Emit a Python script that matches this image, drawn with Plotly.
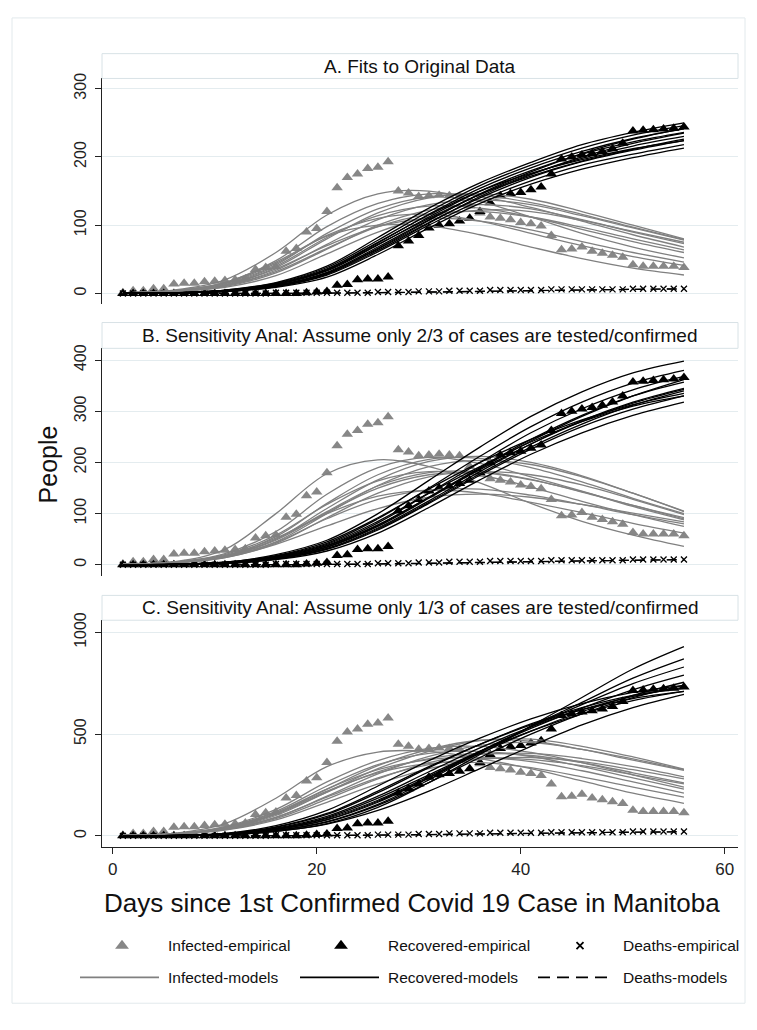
import plotly.graph_objects as go

W, H = 757, 1030

# ---------------- data ----------------
days = list(range(1, 57))
infected_emp = [1, 4, 4, 7, 7, 14, 15, 15, 17, 18, 19, 20, 21, 35, 38, 39, 62, 66, 90, 95,
                120, 155, 170, 175, 183, 185, 193, 150, 147, 142, 143, 144, 143, 142, 128, 118,
                112, 110, 108, 104, 102, 99, 85, 64, 65, 68, 62, 59, 56, 53, 42, 40, 40, 40, 40, 38]
recovered_emp = [0, 0, 0, 0, 0, 0, 0, 0, 0, 0, 0, 0, 0, 0, 0, 0, 0, 0, 1, 2,
                 3, 12, 13, 20, 21, 21, 24, 70, 77, 85, 96, 100, 102, 106, 110, 120,
                 133, 143, 146, 148, 152, 156, 175, 197, 200, 203, 205, 208, 212, 220,
                 238, 239, 240, 241, 242, 244]
deaths_emp = [0, 0, 0, 0, 0, 0, 0, 0, 0, 0, 0, 0, 0, 0, 0, 1, 1, 1, 1, 1, 1, 1, 1, 1, 1,
              2, 2, 2, 2, 3, 3, 3, 4, 4, 4, 4, 5, 5, 5, 5, 5, 5, 6, 6, 6, 6, 6, 6, 6, 6,
              7, 7, 7, 7, 7, 7]
# panel B assumes only 2/3 of cases confirmed (x1.5), panel C only 1/3 (x3)
scale_factors = [1.0, 1.5, 3.0]

model_days = [1, 6, 11, 16, 21, 26, 31, 36, 41, 46, 51, 56]

infected_models_A = [
    [1, 5, 20, 60, 115, 146, 150, 135, 112, 88, 68, 52],
    [1, 4, 16, 48, 98, 132, 146, 142, 126, 106, 86, 68],
    [1, 4, 14, 42, 88, 124, 142, 144, 133, 116, 97, 79],
    [1, 3, 12, 38, 80, 118, 140, 146, 138, 120, 100, 80],
    [1, 3, 11, 34, 72, 108, 130, 137, 130, 114, 96, 78],
    [1, 3, 13, 40, 82, 114, 128, 125, 112, 94, 76, 60],
    [1, 3, 10, 30, 65, 100, 122, 130, 124, 108, 90, 73],
    [1, 4, 15, 44, 85, 110, 116, 106, 88, 70, 54, 41],
    [1, 3, 12, 36, 70, 98, 110, 106, 93, 76, 60, 46],
    [1, 4, 16, 46, 84, 100, 99, 86, 68, 51, 37, 27],
    [1, 3, 11, 32, 66, 98, 116, 120, 112, 97, 80, 64],
    [1, 3, 9, 26, 58, 90, 112, 122, 120, 107, 91, 75],
]
recovered_models_A = [
    [0, 1, 5, 16, 40, 82, 125, 162, 192, 218, 236, 250],
    [0, 1, 5, 15, 38, 78, 120, 158, 188, 213, 232, 246],
    [0, 1, 4, 14, 35, 74, 116, 154, 184, 208, 227, 241],
    [0, 1, 4, 13, 33, 71, 112, 150, 180, 204, 222, 236],
    [0, 1, 4, 12, 31, 68, 108, 145, 175, 198, 216, 230],
    [0, 1, 3, 11, 29, 65, 104, 140, 170, 193, 210, 224],
    [0, 1, 3, 10, 27, 61, 100, 136, 165, 188, 204, 218],
    [0, 1, 3, 9, 24, 57, 96, 132, 160, 182, 199, 213],
    [0, 1, 4, 14, 36, 75, 115, 150, 176, 196, 212, 224],
    [0, 1, 4, 13, 34, 72, 110, 145, 172, 194, 211, 226],
    [0, 1, 3, 11, 30, 66, 107, 146, 178, 205, 226, 242],
    [0, 1, 3, 10, 28, 63, 103, 142, 174, 200, 220, 235],
]
deaths_models_A = [
    [0, 0, 0, 0.2, 0.6, 1.3, 2.2, 3.2, 4.2, 5.1, 5.9, 6.5],
    [0, 0, 0, 0.1, 0.4, 1.0, 1.8, 2.8, 3.9, 5.0, 6.0, 6.9],
]

infected_models_B = [
    [1, 6, 30, 100, 178, 205, 192, 160, 120, 85, 58, 36],
    [1, 5, 22, 65, 138, 190, 210, 198, 172, 144, 114, 88],
    [1, 4, 18, 55, 120, 176, 206, 208, 190, 162, 130, 100],
    [1, 4, 16, 50, 110, 166, 202, 212, 200, 174, 140, 105],
    [1, 4, 15, 45, 100, 155, 192, 204, 196, 172, 140, 104],
    [1, 5, 20, 58, 118, 164, 182, 175, 152, 124, 98, 75],
    [1, 4, 16, 48, 102, 150, 176, 180, 166, 143, 116, 90],
    [1, 4, 14, 42, 92, 140, 172, 182, 176, 156, 128, 98],
    [1, 5, 18, 52, 100, 134, 146, 140, 122, 102, 81, 62],
    [1, 4, 15, 44, 90, 128, 146, 148, 136, 118, 98, 80],
    [1, 4, 14, 40, 76, 110, 132, 138, 132, 118, 101, 84],
    [1, 4, 17, 50, 104, 154, 180, 182, 167, 142, 116, 92],
]
recovered_models_B = [
    [0, 1, 5, 20, 48, 100, 165, 230, 290, 338, 375, 398],
    [0, 1, 4, 17, 42, 90, 150, 212, 270, 318, 355, 380],
    [0, 1, 4, 15, 38, 82, 140, 200, 258, 305, 342, 368],
    [0, 1, 4, 14, 35, 77, 132, 190, 245, 292, 330, 357],
    [0, 1, 3, 12, 32, 72, 125, 182, 236, 282, 318, 345],
    [0, 1, 3, 11, 30, 68, 120, 175, 226, 270, 304, 330],
    [0, 1, 3, 10, 27, 62, 112, 166, 216, 258, 292, 318],
    [0, 1, 4, 16, 40, 85, 140, 192, 240, 280, 310, 330],
    [0, 1, 5, 18, 45, 92, 148, 200, 245, 283, 313, 335],
    [0, 1, 3, 13, 34, 75, 130, 188, 242, 290, 330, 362],
    [0, 1, 3, 12, 31, 70, 122, 178, 230, 275, 312, 340],
    [0, 1, 4, 15, 37, 78, 132, 186, 236, 280, 316, 343],
]
deaths_models_B = [
    [0, 0, 0, 0.3, 0.9, 2.0, 3.3, 4.8, 6.3, 7.6, 8.8, 9.8],
    [0, 0, 0, 0.2, 0.6, 1.5, 2.7, 4.2, 5.8, 7.5, 9.0, 10.3],
]

infected_models_C = [
    [2, 12, 60, 185, 340, 412, 415, 380, 330, 270, 210, 160],
    [2, 10, 45, 130, 265, 370, 430, 440, 410, 360, 300, 240],
    [2, 9, 38, 110, 230, 345, 425, 470, 465, 425, 372, 322],
    [2, 9, 35, 100, 215, 330, 415, 468, 475, 440, 388, 328],
    [2, 8, 32, 90, 195, 305, 390, 445, 458, 425, 378, 325],
    [2, 10, 42, 120, 245, 350, 405, 415, 390, 340, 285, 230],
    [2, 9, 36, 105, 215, 315, 380, 405, 395, 360, 310, 260],
    [2, 8, 30, 85, 180, 280, 360, 400, 405, 380, 340, 290],
    [2, 9, 38, 108, 220, 310, 355, 360, 335, 290, 240, 190],
    [2, 8, 32, 92, 190, 285, 350, 380, 375, 345, 300, 255],
    [2, 7, 28, 78, 165, 255, 330, 375, 385, 365, 325, 280],
    [2, 10, 40, 115, 230, 325, 375, 385, 365, 320, 265, 210],
]
recovered_models_C = [
    [0, 1, 5, 22, 60, 140, 262, 400, 540, 680, 820, 930],
    [0, 1, 6, 26, 70, 155, 275, 410, 538, 656, 775, 870],
    [0, 1, 7, 30, 78, 165, 285, 415, 535, 645, 748, 830],
    [0, 2, 8, 34, 86, 175, 292, 415, 528, 628, 718, 790],
    [0, 2, 12, 50, 125, 245, 370, 480, 575, 650, 705, 740],
    [0, 2, 10, 42, 105, 212, 335, 450, 550, 630, 690, 725],
    [0, 1, 8, 35, 90, 185, 300, 415, 515, 600, 665, 710],
    [0, 1, 5, 22, 58, 125, 220, 330, 440, 545, 630, 695],
    [0, 2, 9, 38, 96, 195, 315, 432, 535, 620, 685, 730],
    [0, 1, 6, 26, 68, 150, 262, 385, 500, 600, 680, 740],
    [0, 2, 10, 44, 110, 220, 340, 450, 545, 620, 675, 710],
    [0, 1, 7, 31, 80, 170, 285, 405, 515, 610, 690, 755],
]
deaths_models_C = [
    [0, 0, 0, 0.6, 1.8, 4.0, 6.6, 9.6, 12.6, 15.2, 17.6, 19.6],
    [0, 0, 0, 0.4, 1.2, 3.0, 5.4, 8.4, 11.6, 15.0, 18.0, 20.6],
]

panel_titles = [
    "A. Fits to Original Data",
    "B. Sensitivity Anal: Assume only 2/3 of cases are tested/confirmed",
    "C. Sensitivity Anal: Assume only 1/3 of cases are tested/confirmed",
]
x_ticks = [0, 20, 40, 60]
y_ticks = [[0, 100, 200, 300], [0, 100, 200, 300, 400], [0, 500, 1000]]

legend_labels = [
    "Infected-empirical", "Recovered-empirical", "Deaths-empirical",
    "Infected-models", "Recovered-models", "Deaths-models",
]
x_title = "Days since 1st Confirmed Covid 19 Case in Manitoba"
y_title = "People"

# ---------------- layout / style ----------------
FONT = "Liberation Sans, Arial, Helvetica, sans-serif"
GRAY_MK = "#878787"
GRAY_LN = "#808080"
BLACK = "#000000"
AXC = "#222222"

y_ranges = [[-15, 315], [-21, 423], [-57, 1060]]
x_range = [-1.05, 61.3]
plot_left, plot_right = 102, 738
panel_px = [(71, 298), (343, 572), (617, 846)]      # plot area top/bottom (px)
title_px = [(46, 71), (317, 343), (592, 617)]       # title box top/bottom (px)
legend_px = (925, 995)                              # legend band top/bottom (px)


def px(x):
    return x / W


def py(y):
    return 1 - y / H


infected_models = [infected_models_A, infected_models_B, infected_models_C]
recovered_models = [recovered_models_A, recovered_models_B, recovered_models_C]
deaths_models = [deaths_models_A, deaths_models_B, deaths_models_C]

fig = go.Figure()
layout = dict(
    width=W, height=H,
    margin=dict(l=0, r=0, t=0, b=0),
    paper_bgcolor="white", plot_bgcolor="rgba(0,0,0,0)",
    showlegend=False,
    font=dict(family=FONT, color=AXC),
)

shapes = []
annotations = []

for i in range(3):
    sfx = "" if i == 0 else str(i + 1)
    xa, ya = "x" + sfx, "y" + sfx
    f = scale_factors[i]
    top, bot = panel_px[i]
    dom_y = [py(bot), py(top)]
    dom_x = [px(plot_left), px(plot_right)]

    fig.add_trace(go.Scatter(
        x=days, y=[v * f for v in infected_emp], mode="markers", xaxis=xa, yaxis=ya,
        marker=dict(symbol="triangle-up", size=10, color=GRAY_MK, line=dict(width=0))))
    fig.add_trace(go.Scatter(
        x=days, y=[v * f for v in recovered_emp], mode="markers", xaxis=xa, yaxis=ya,
        marker=dict(symbol="triangle-up", size=10, color=BLACK, line=dict(width=0))))
    fig.add_trace(go.Scatter(
        x=days, y=[v * f for v in deaths_emp], mode="markers", xaxis=xa, yaxis=ya,
        marker=dict(symbol="x-thin", size=6, color=BLACK, line=dict(width=1.3, color=BLACK))))

    for curve in infected_models[i]:
        fig.add_trace(go.Scatter(
            x=model_days, y=curve, mode="lines", xaxis=xa, yaxis=ya,
            line=dict(color=GRAY_LN, width=1.3, shape="spline", smoothing=1.0)))
    for curve in recovered_models[i]:
        fig.add_trace(go.Scatter(
            x=model_days, y=curve, mode="lines", xaxis=xa, yaxis=ya,
            line=dict(color=BLACK, width=1.3, shape="spline", smoothing=1.0)))
    for curve in deaths_models[i]:
        fig.add_trace(go.Scatter(
            x=model_days, y=curve, mode="lines", xaxis=xa, yaxis=ya,
            line=dict(color=BLACK, width=1.2, dash="10px,6px", shape="spline")))

    is_bottom = i == 2
    layout["xaxis" + sfx] = dict(
        domain=dom_x, range=x_range, anchor=ya,
        showgrid=False, zeroline=False,
        showline=is_bottom, linecolor=AXC, linewidth=1,
        ticks="outside" if is_bottom else "", ticklen=6, tickcolor=AXC,
        tickvals=x_ticks, showticklabels=is_bottom,
        tickfont=dict(size=17, color=AXC, family=FONT),
    )
    layout["yaxis" + sfx] = dict(
        domain=dom_y, range=y_ranges[i], anchor=xa,
        showgrid=True, gridcolor="#e4ecef", gridwidth=1, zeroline=False,
        showline=True, linecolor=AXC, linewidth=1,
        ticks="outside", ticklen=6, tickcolor=AXC,
        tickvals=y_ticks[i], tickangle=-90, ticklabelstandoff=3,
        tickfont=dict(size=16, color=AXC, family=FONT),
    )

    # title box
    t0, t1 = title_px[i]
    shapes.append(dict(type="rect", xref="paper", yref="paper",
                       x0=px(plot_left), x1=px(plot_right), y0=py(t1), y1=py(t0),
                       line=dict(color="#d8e2e6", width=1), fillcolor="white"))
    annotations.append(dict(text=panel_titles[i], xref="paper", yref="paper",
                            x=px((plot_left + plot_right) / 2), y=py((t0 + t1) / 2),
                            xanchor="center", yanchor="middle", showarrow=False,
                            font=dict(size=19, color="#111111", family=FONT)))

# outer frame
shapes.append(dict(type="rect", xref="paper", yref="paper",
                   x0=px(12), x1=px(745), y0=py(1003), y1=py(10),
                   line=dict(color="#e2e9ec", width=1), fillcolor="rgba(0,0,0,0)", layer="below"))

# axis titles
annotations.append(dict(text=x_title, xref="paper", yref="paper",
                        x=px(412), y=py(902), xanchor="center", yanchor="middle",
                        showarrow=False, font=dict(size=26, color="#111111", family=FONT)))
annotations.append(dict(text=y_title, xref="paper", yref="paper",
                        x=px(48), y=py(460), xanchor="center", yanchor="middle",
                        textangle=-90, showarrow=False,
                        font=dict(size=25, color="#111111", family=FONT)))

# ---------------- legend (manual, on a small axis in pixel units) ----------------
row1, row2 = 945, 977
key_x = [122, 341, 580]
text_x = [166, 386, 621]
line_keys = [(80, 159), (300, 379), (538, 614)]

fig.add_trace(go.Scatter(x=[key_x[0]], y=[row1], mode="markers", xaxis="x4", yaxis="y4",
                         marker=dict(symbol="triangle-up", size=12, color=GRAY_MK)))
fig.add_trace(go.Scatter(x=[key_x[1]], y=[row1], mode="markers", xaxis="x4", yaxis="y4",
                         marker=dict(symbol="triangle-up", size=12, color=BLACK)))
fig.add_trace(go.Scatter(x=[key_x[2]], y=[row1], mode="markers", xaxis="x4", yaxis="y4",
                         marker=dict(symbol="x-thin", size=7, color=BLACK,
                                     line=dict(width=1.8, color=BLACK))))
fig.add_trace(go.Scatter(x=list(line_keys[0]), y=[row2, row2], mode="lines", xaxis="x4", yaxis="y4",
                         line=dict(color=GRAY_LN, width=1.6)))
fig.add_trace(go.Scatter(x=list(line_keys[1]), y=[row2, row2], mode="lines", xaxis="x4", yaxis="y4",
                         line=dict(color=BLACK, width=1.9)))
fig.add_trace(go.Scatter(x=list(line_keys[2]), y=[row2, row2], mode="lines", xaxis="x4", yaxis="y4",
                         line=dict(color=BLACK, width=1.9, dash="12px,7px")))

layout["xaxis4"] = dict(domain=[0, 1], range=[0, W], anchor="y4", visible=False, fixedrange=True)
layout["yaxis4"] = dict(domain=[py(legend_px[1]), py(legend_px[0])],
                        range=[legend_px[1], legend_px[0]], anchor="x4",
                        visible=False, fixedrange=True)

for k, lab in enumerate(legend_labels):
    r = row1 if k < 3 else row2
    annotations.append(dict(text=lab, xref="paper", yref="paper",
                            x=px(text_x[k % 3]), y=py(r), xanchor="left", yanchor="middle",
                            showarrow=False, font=dict(size=15.5, color="#111111", family=FONT)))

layout["shapes"] = shapes
layout["annotations"] = annotations
fig.update_layout(**layout)
fig.update_traces(hoverinfo="skip")

fig.write_html("out.html")
